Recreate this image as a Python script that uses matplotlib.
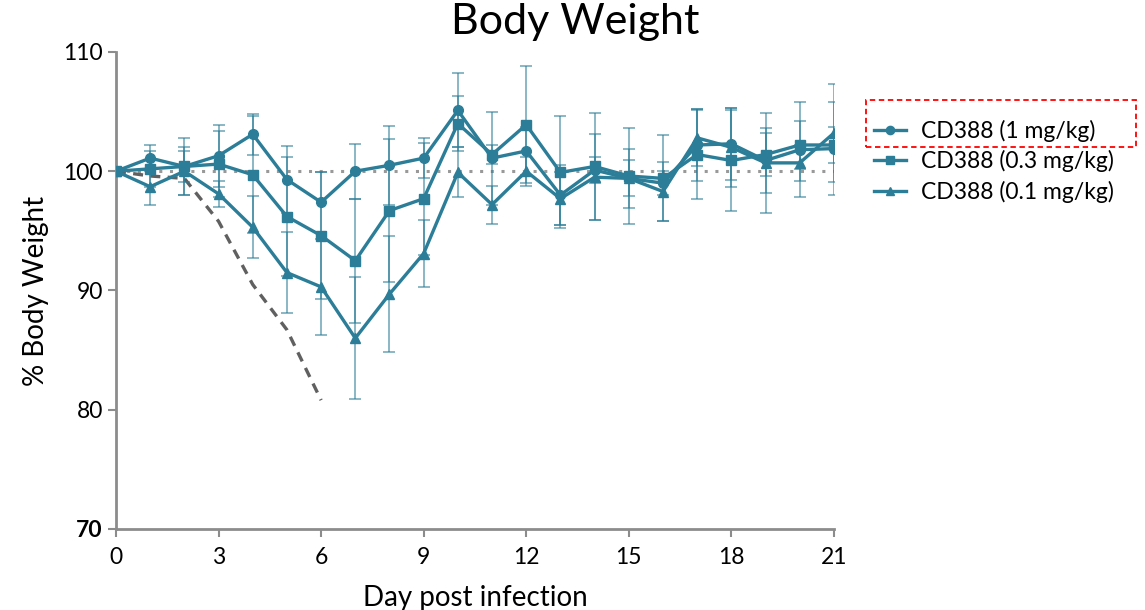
import matplotlib
matplotlib.use("Agg")
import matplotlib.pyplot as plt
from matplotlib.patches import Rectangle

# body weight data
days = list(range(22))
labels = ["CD388 (1 mg/kg)", "CD388 (0.3 mg/kg)", "CD388 (0.1 mg/kg)"]

bw_1 = [100, 101.1, 100.4, 101.3, 103.1, 99.3, 97.4, 100.0, 100.5, 101.1, 105.1,
        101.1, 101.7, 98.0, 100.1, 99.4, 99.0, 102.2, 102.3, 100.9, 101.8, 101.9]
err_1 = [0, 1.1, 1.3, 2.6, 1.7, 2.8, 2.5, 2.3, 3.3, 1.7, 3.1,
         3.9, 2.0, 2.5, 1.1, 1.5, 1.0, 3.0, 3.0, 2.7, 4.0, 3.9]

bw_03 = [100, 100.2, 100.4, 100.6, 99.7, 96.2, 94.6, 92.5, 96.7, 97.7, 104.0,
         101.4, 103.9, 99.9, 100.4, 99.6, 99.4, 101.4, 100.9, 101.4, 102.2, 102.2]
err_03 = [0, 1.5, 2.4, 2.8, 4.9, 5.0, 5.3, 5.2, 6.0, 4.7, 2.3,
          0.8, 4.9, 4.7, 4.5, 4.0, 3.6, 3.7, 4.2, 1.8, 2.0, 1.5]

bw_01 = [100, 98.7, 100.0, 98.1, 95.3, 91.5, 90.3, 86.0, 89.7, 93.1, 99.9,
         97.2, 100.0, 97.7, 99.5, 99.4, 98.3, 102.8, 102.0, 100.7, 100.7, 103.2]
err_01 = [0, 1.5, 2.0, 1.1, 2.6, 3.4, 4.0, 5.1, 4.9, 2.8, 2.1,
          1.6, 1.2, 2.2, 3.6, 2.5, 2.5, 2.4, 3.3, 4.2, 1.5, 4.1]

# untreated control (dashed), days 0-6
ctrl_days = [0, 1, 2, 3, 4, 5, 6]
ctrl_bw = [100, 99.6, 99.4, 95.8, 90.5, 86.7, 80.8]

plt.rcParams['font.family'] = ['Lato', 'DejaVu Sans']

teal = "#2b7d98"
fig = plt.figure(figsize=(11.45, 6.1), dpi=100)
ax = fig.add_axes([0.1013, 0.1328, 0.627, 0.782])

# reference line at 100 %
ax.plot([0, 21], [100, 100], color="#999999", linestyle=(0, (1, 2.5)), linewidth=2.2, zorder=1)
# control curve
ax.plot(ctrl_days, ctrl_bw, color="#606060", linestyle=(0, (3, 2.2)), linewidth=2.4, zorder=2)

series = [(bw_1, err_1, "o", 7), (bw_03, err_03, "s", 7), (bw_01, err_01, "^", 7.5)]
handles = []
for (vals, errs, mk, ms), lab in zip(series, labels):
    ax.errorbar(days, vals, yerr=errs, fmt="none", ecolor=teal, elinewidth=1.4,
                capsize=4.5, capthick=1.4, alpha=0.55, zorder=3)
    h, = ax.plot(days, vals, color=teal, marker=mk, markersize=ms, linewidth=2.4,
                 label=lab, zorder=4)
    handles.append(h)

ax.set_xlim(0, 21)
ax.set_ylim(70, 110)
ax.set_xticks(range(0, 22, 3))
ax.set_yticks([70, 80, 90, 100, 110])
for s in ["top", "right"]:
    ax.spines[s].set_visible(False)
for s in ["left", "bottom"]:
    ax.spines[s].set_color("#8c8c8c")
    ax.spines[s].set_linewidth(2)
ax.tick_params(axis="both", colors="#8c8c8c", width=1.5, length=6, labelsize=16.5,
               labelcolor="black")
ax.tick_params(axis="x", pad=7)
ax.get_yticklabels()[0].set_fontweight("bold")

fig.suptitle("Body Weight", fontsize=31, x=0.502, y=0.995)
ax.set_xlabel("Day post infection", fontsize=20, labelpad=12)
ax.set_ylabel("% Body Weight", fontsize=20, labelpad=10)

fig.legend(handles=handles, loc="upper left", bbox_to_anchor=(0.745, 0.837),
           frameon=False, fontsize=16.5, handlelength=1.4, labelspacing=0.36,
           handletextpad=0.65, markerscale=0.85)

# red dashed highlight box around the first legend entry
fig.patches.append(Rectangle((866 / 1145, 1 - 147 / 610), 270 / 1145, 47 / 610,
                             transform=fig.transFigure, fill=False,
                             edgecolor="red", linestyle=(0, (3, 2)), linewidth=1.3))

fig.savefig("out.png", dpi=100)
